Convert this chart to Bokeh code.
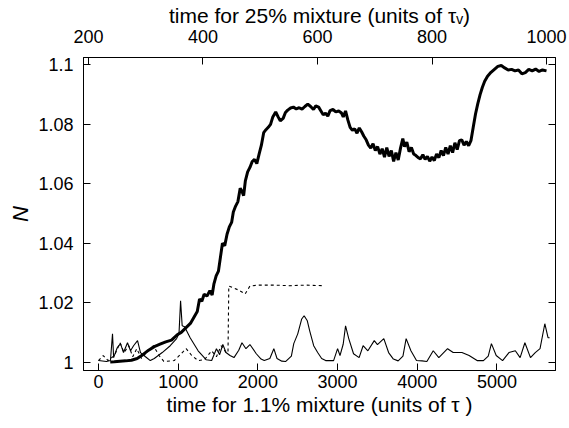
from bokeh.plotting import figure
from bokeh.models import Range1d, LinearAxis, FixedTicker
from bokeh.embed import file_html
from bokeh.resources import INLINE

# 25% mixture (top axis, units of tau_v)
t25 = [238, 245, 255, 265, 275, 285, 295, 305, 315, 325, 335, 345, 355, 362, 370, 378, 384, 390, 394,
       398, 402, 407, 412, 416, 419, 423, 427, 431, 434, 438, 442, 446, 450, 453, 457, 461, 465, 468, 471,
       474, 478, 482, 486, 490, 494, 498, 502, 506, 510, 514, 518, 522, 527, 531, 535, 540, 544, 548, 553,
       558, 563, 568, 573, 578, 583, 588, 593, 597, 602, 606, 610, 614, 618, 622, 627, 632, 637, 642, 645,
       649, 653, 657, 661, 665, 669, 673, 677, 681, 685, 689, 693, 697, 701, 705, 709, 713, 717, 721, 725,
       729, 733, 737, 741, 745, 749, 752, 756, 760, 764, 768, 772, 776, 780, 784, 788, 792, 796, 800, 804,
       808, 812, 816, 820, 824, 828, 832, 836, 840, 844, 848, 852, 856, 860, 864, 868, 872, 876, 880, 884,
       888, 892, 897, 903, 909, 915, 921, 927, 933, 939, 945, 951, 957, 963, 969, 975, 981, 987, 993, 1000]
n25 = [1.0000, 1.0001, 1.0003, 1.0004, 1.0006, 1.0012, 1.0025, 1.0040, 1.0052, 1.0060, 1.0068, 1.0074,
       1.0092, 1.0100, 1.0115, 1.0130, 1.0150, 1.0170, 1.0212, 1.0205, 1.0228, 1.0222, 1.0240, 1.0226, 1.0262,
       1.0290, 1.0306, 1.0360, 1.0400, 1.0392, 1.0430, 1.0455, 1.0470, 1.0505, 1.0525, 1.0540, 1.0585, 1.0575,
       1.0560, 1.0610, 1.0640, 1.0655, 1.0675, 1.0682, 1.0668, 1.0700, 1.0730, 1.0772, 1.0782, 1.0790, 1.0800,
       1.0825, 1.0842, 1.0826, 1.0812, 1.0820, 1.0840, 1.0848, 1.0855, 1.0858, 1.0852, 1.0856, 1.0851, 1.0860,
       1.0868, 1.0860, 1.0850, 1.0862, 1.0858, 1.0845, 1.0832, 1.0838, 1.0828, 1.0846, 1.0850, 1.0842, 1.0845,
       1.0838, 1.0825, 1.0845, 1.0815, 1.0790, 1.0780, 1.0785, 1.0770, 1.0788, 1.0775, 1.0760, 1.0748, 1.0730,
       1.0720, 1.0735, 1.0712, 1.0725, 1.0700, 1.0718, 1.0690, 1.0722, 1.0692, 1.0712, 1.0675, 1.0705, 1.0680,
       1.0720, 1.0752, 1.0725, 1.0740, 1.0708, 1.0722, 1.0700, 1.0695, 1.0688, 1.0684, 1.0698, 1.0682, 1.0692,
       1.0676, 1.0690, 1.0678, 1.0700, 1.0688, 1.0712, 1.0695, 1.0722, 1.0700, 1.0728, 1.0705, 1.0738, 1.0715,
       1.0745, 1.0748, 1.0730, 1.0742, 1.0728, 1.0745, 1.0790, 1.0835, 1.0870, 1.0900, 1.0925, 1.0945, 1.0962,
       1.0975, 1.0985, 1.0995, 1.0998, 1.0990, 1.0983, 1.0985, 1.0980, 1.0983, 1.0970, 1.0974, 1.0985, 1.0980,
       1.0986, 1.0978, 1.0983, 1.0980]

# 1.1% mixture (bottom axis, units of tau) - solid thin
t11 = [0, 100, 150, 176, 190, 235, 276, 314, 364, 402, 440, 490, 527, 590, 650, 700, 800, 900, 980, 1010,
       1030, 1050, 1080, 1150, 1250, 1350, 1420, 1480, 1520, 1560, 1600, 1650, 1700, 1760, 1800, 1850, 1900,
       1980, 2040, 2080, 2150, 2200, 2240, 2300, 2350, 2420, 2450, 2500, 2550, 2580, 2620, 2650, 2700, 2750,
       2800, 2850, 2950, 3000, 3030, 3070, 3100, 3140, 3200, 3270, 3320, 3380, 3460, 3500, 3580, 3640, 3700,
       3760, 3820, 3860, 3920, 3990, 4060, 4120, 4200, 4270, 4380, 4450, 4560, 4650, 4750, 4830, 4890, 4930,
       4990, 5070, 5150, 5230, 5290, 5350, 5420, 5480, 5540, 5600, 5640, 5660]
n11 = [1.0005, 1.0002, 1.0005, 1.0095, 1.0015, 1.0048, 1.0062, 1.0032, 1.0065, 1.0038, 1.0055, 1.0072, 1.0032,
       1.0018, 1.0005, 1.0012, 1.0032, 1.0055, 1.0079, 1.0095, 1.0206, 1.0122, 1.0119, 1.0082, 1.0038, 1.0008,
       1.0005, 1.0045, 1.0025, 1.0059, 1.0032, 1.0022, 1.0015, 1.0040, 1.0065, 1.0045, 1.0059, 1.0028, 1.0010,
       1.0005, 1.0012, 1.0045, 1.0012, 1.0003, 1.0002, 1.0020, 1.0062, 1.0095, 1.0145, 1.0156, 1.0139, 1.0105,
       1.0055, 1.0032, 1.0012, 1.0005, 1.0005, 1.0045, 1.0022, 1.0060, 1.0122, 1.0079, 1.0028, 1.0015, 1.0055,
       1.0038, 1.0072, 1.0059, 1.0079, 1.0032, 1.0010, 1.0004, 1.0020, 1.0079, 1.0038, 1.0005, 1.0004, 1.0002,
       1.0038, 1.0015, 1.0045, 1.0032, 1.0032, 1.0022, 1.0005, 1.0005, 1.0020, 1.0062, 1.0022, 1.0005, 1.0032,
       1.0038, 1.0015, 1.0065, 1.0015, 1.0032, 1.0045, 1.0129, 1.0082, 1.0082]

# dashed series (bottom axis)
td = [0, 60, 120, 200, 270, 320, 380, 430, 480, 540, 600, 690, 760, 820, 950, 1000, 1100, 1170, 1250, 1330,
      1420, 1480, 1540, 1600, 1625, 1635, 1700, 1760, 1840, 1900, 2000, 2200, 2400, 2600, 2820]
nd = [1.0005, 1.0022, 1.0005, 1.0022, 1.0065, 1.0032, 1.0055, 1.0018, 1.0045, 1.0012, 1.0032, 1.0055, 1.0022,
      1.0002, 1.0005, 1.0018, 1.0045, 1.0022, 1.0005, 1.0008, 1.0038, 1.0018, 1.0055, 1.0032, 1.0032, 1.0256,
      1.0249, 1.0242, 1.0229, 1.0256, 1.0259, 1.0259, 1.0257, 1.0259, 1.0257]

bottom_ticks = [0, 1000, 2000, 3000, 4000, 5000]
top_ticks = [200, 400, 600, 800, 1000]
y_ticks = [1.0, 1.02, 1.04, 1.06, 1.08, 1.1]
y_labels = ["1", "1.02", "1.04", "1.06", "1.08", "1.1"]

FONT = "Liberation Sans"
TICK_PX = "18px"
LAB_PX = "21px"

p = figure(width=568, height=427, output_backend="svg", toolbar_location=None,
           x_range=Range1d(-188, 5734), y_range=Range1d(0.99716, 1.1025),
           x_axis_location=None, y_axis_location=None)
p.extra_x_ranges = {"top": Range1d(191.3, 1015.7)}
p.min_border_left = 83
p.min_border_right = 13
p.min_border_top = 55
p.min_border_bottom = 57
p.outline_line_color = "black"
p.outline_line_width = 1
p.xgrid.visible = False
p.ygrid.visible = False
p.background_fill_color = "white"
p.border_fill_color = "white"


def style(ax, show_labels=True):
    ax.major_tick_in = 7
    ax.major_tick_out = 0
    ax.minor_tick_line_color = None
    ax.axis_line_color = "black"
    ax.major_tick_line_color = "black"
    ax.major_label_text_font = FONT
    ax.major_label_text_font_size = TICK_PX
    ax.major_label_text_color = "black"
    ax.axis_label_text_font = FONT
    ax.axis_label_text_font_size = LAB_PX
    ax.axis_label_text_font_style = "normal"
    ax.axis_label_text_color = "black"
    if not show_labels:
        ax.major_label_text_alpha = 0


xb = LinearAxis(ticker=FixedTicker(ticks=bottom_ticks),
                axis_label="time for 1.1% mixture (units of \u03c4 )")
style(xb)
xb.major_label_standoff = 4
xb.axis_label_standoff = 2
p.add_layout(xb, "below")

xt = LinearAxis(x_range_name="top", ticker=FixedTicker(ticks=top_ticks),
                axis_label="time for 25% mixture (units of \u03c4\u1d65)")
style(xt)
xt.major_label_standoff = 15
xt.axis_label_standoff = 0
p.add_layout(xt, "above")

yl = LinearAxis(ticker=FixedTicker(ticks=y_ticks), axis_label="N")
style(yl)
yl.major_label_overrides = {t: l for t, l in zip(y_ticks, y_labels)}
yl.axis_label_text_font_style = "italic"
yl.axis_label_text_font_size = "22px"
yl.major_label_standoff = 10
yl.axis_label_standoff = 2
p.add_layout(yl, "left")

yr = LinearAxis(ticker=FixedTicker(ticks=y_ticks))
style(yr, show_labels=False)
yr.major_label_text_font_size = "1px"
yr.major_label_standoff = 0
p.add_layout(yr, "right")

p.line(td, nd, line_color="black", line_width=1.1, line_dash="3 3")
p.line(t11, n11, line_color="black", line_width=1.1)
p.line(t25, n25, line_color="black", line_width=3, x_range_name="top")

open("out.html", "w").write(file_html(p, INLINE))
